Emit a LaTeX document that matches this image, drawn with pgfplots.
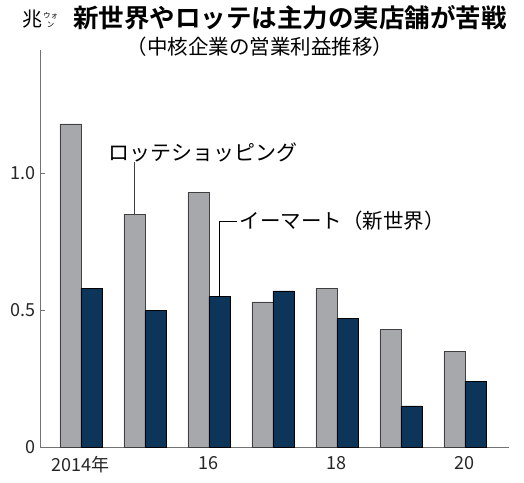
\documentclass[border=0pt]{standalone}
\usepackage{fontspec}
\setmainfont{Noto Sans CJK JP}
\newfontfamily\jpbold{Noto Sans CJK JP Bold}
\usepackage{pgfplots}
\pgfplotsset{compat=1.18}
\definecolor{lgray}{HTML}{A7A8AB}
\definecolor{navy}{HTML}{0D3559}
\begin{document}
\begin{tikzpicture}
\path[use as bounding box] (0,0) rectangle (524bp,483bp);
\begin{axis}[
  at={(40bp,36bp)}, anchor=south west,
  scale only axis, width=469bp, height=397bp,
  xmin=2013.36, xmax=2020.69, ymin=0, ymax=1.45,
  axis x line*=bottom, axis y line*=left,
  xtick={2014,2016,2018,2020}, xticklabels={2014年,16,18,20},
  ytick={0,0.5,1.0}, yticklabels={0,0.5,1.0},
  /pgf/number format/assume math mode=true,
  major tick length=5bp, tick align=inside,
  x tick style={draw=none},
  y tick style={draw=black!55, line width=0.6pt},
  axis line style={draw=black!55, line width=0.8pt},
  ticklabel style={font=\fontsize{18bp}{18bp}\selectfont, text=black!85},
  yticklabel style={xshift=-1bp},
  xticklabel style={yshift=-1bp},
  ybar, bar width=21bp,
  clip=false,
]
\addplot[fill=lgray, draw=black!75, line width=0.6pt, bar shift=-10.5bp] coordinates {
(2014,1.18) (2015,0.85) (2016,0.93) (2017,0.53) (2018,0.58) (2019,0.43) (2020,0.35)};
\addplot[fill=navy, draw=black, line width=0.6pt, bar shift=10.5bp] coordinates {
(2014,0.58) (2015,0.50) (2016,0.55) (2017,0.57) (2018,0.47) (2019,0.15) (2020,0.24)};
\draw[black!75, line width=0.6pt] (axis cs:2014.836,0.85) -- (axis cs:2014.836,1.04);
\draw[black, line width=0.6pt] (axis cs:2016.164,0.55) -- (axis cs:2016.164,0.825) -- (axis cs:2016.44,0.825);
\node[anchor=west, inner sep=0pt, font=\fontsize{21bp}{21bp}\selectfont] at (axis cs:2014.42,1.077) {ロッテショッピング};
\node[anchor=west, inner sep=0pt, font=\fontsize{20.5bp}{20.5bp}\selectfont] at (axis cs:2016.48,0.825) {イーマート（新世界）};
\end{axis}
\node[inner sep=0pt, font=\jpbold\fontsize{25.5bp}{25.5bp}\selectfont] at (290bp,465bp) {新世界やロッテは主力の実店舗が苦戦};
\node[inner sep=0pt, font=\fontsize{20.5bp}{20.5bp}\selectfont] at (260bp,436bp) {（中核企業の営業利益推移）};
\node[anchor=west, inner sep=0pt, font=\fontsize{20bp}{20bp}\selectfont] at (22bp,464bp) {兆\hspace{1bp}\raisebox{-1bp}{\fontsize{7.5bp}{8bp}\selectfont\shortstack{ウォ\\ン}}};
\end{tikzpicture}
\end{document}
